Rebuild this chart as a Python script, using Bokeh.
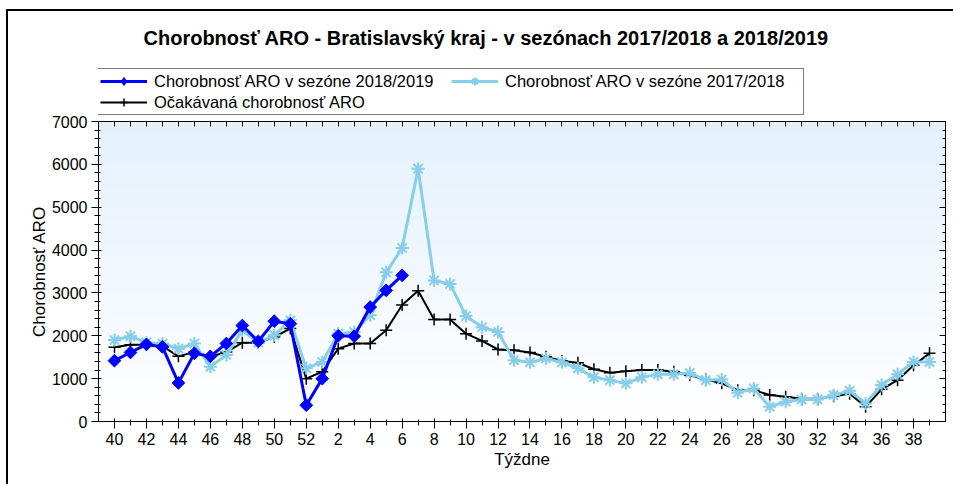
import numpy as np
from bokeh.plotting import figure
from bokeh.layouts import column
from bokeh.models import (Range1d, FixedTicker, LinearAxis, Legend, LegendItem,
                          CustomJSTickFormatter)
from bokeh.embed import file_html
from bokeh.resources import INLINE

# ---- data ----
weeks = [40, 41, 42, 43, 44, 45, 46, 47, 48, 49, 50, 51, 52,
         1, 2, 3, 4, 5, 6, 7, 8, 9, 10, 11, 12, 13, 14, 15, 16, 17, 18, 19, 20,
         21, 22, 23, 24, 25, 26, 27, 28, 29, 30, 31, 32, 33, 34, 35, 36, 37, 38, 39]

season_2018_19 = [1420, 1610, 1800, 1740, 900, 1590, 1520, 1820, 2240, 1870,
                  2340, 2280, 380, 1000, 2000, 1990, 2670, 3060, 3410]

season_2017_18 = [1900, 1990, 1840, 1820, 1700, 1820, 1280, 1550, 2130, 1840,
                  2010, 2360, 1240, 1390, 2050, 2090, 2480, 3480, 4050,
                  5900, 3290, 3210, 2460, 2200, 2090, 1430, 1380, 1470, 1380, 1240, 1030,
                  965, 890, 1030, 1100, 1100, 1130, 965, 980, 670, 770, 345, 460,
                  515, 515, 615, 715, 420, 850, 1100, 1390, 1390]

expected = [1730, 1790, 1790, 1760, 1520, 1620, 1510, 1620, 1840, 1840,
            1970, 2170, 1000, 1160, 1700, 1820, 1820, 2130, 2720,
            3050, 2380, 2380, 2050, 1880, 1680, 1660, 1610, 1510, 1410, 1370, 1220,
            1140, 1170, 1200, 1200, 1160, 1080, 980, 890, 730, 730, 620, 580,
            530, 530, 590, 650, 345, 750, 965, 1310, 1590]

labels = ["Chorobnosť ARO v sezóne 2018/2019",
          "Chorobnosť ARO v sezóne 2017/2018",
          "Očakávaná chorobnosť ARO"]
title_text = "Chorobnosť ARO - Bratislavský kraj - v sezónach 2017/2018 a 2018/2019"
y_ticks = list(range(0, 7001, 1000))
y_minor = list(range(0, 7001, 200))

FONT = "Liberation Sans"
BLUE = "#0000FF"
SKY = "#87CEEB"
idx = list(range(len(weeks)))

# ---------------- main plot ----------------
p = figure(width=945, height=369, x_range=Range1d(-1, len(weeks)), y_range=Range1d(0, 7000),
           output_backend="svg", toolbar_location=None,
           min_border_left=90, min_border_right=8, min_border_top=6, min_border_bottom=63)

p.xgrid.visible = False
p.ygrid.visible = False
p.outline_line_color = "black"
p.background_fill_color = "white"

# gradient background
n = 256
t = np.linspace(0.0, 1.0, n)
top = np.array([228, 241, 253])
bot = np.array([255, 255, 255])
img = np.empty((n, 1), dtype=np.uint32)
view = img.view(dtype=np.uint8).reshape((n, 1, 4))
for c in range(3):
    view[:, 0, c] = (bot[c] + (top[c] - bot[c]) * t).astype(np.uint8)
view[:, 0, 3] = 255
p.image_rgba(image=[img], x=p.x_range.start, y=p.y_range.start,
             dw=p.x_range.end - p.x_range.start, dh=p.y_range.end - p.y_range.start)

line_styles = [dict(color=BLUE, line_width=3),
               dict(color=SKY, line_width=3),
               dict(color="black", line_width=2)]
marker_styles = [dict(marker="square", angle=np.pi / 4, size=9, color=BLUE),
                 dict(marker="asterisk", size=13, line_color=SKY, line_width=2),
                 dict(marker="cross", size=12, line_color="black", line_width=1.5)]
legend_marker_styles = [dict(marker="diamond", size=13, color=BLUE),
                        marker_styles[1], marker_styles[2]]

n1 = len(season_2018_19)
series = [(idx[:n1], season_2018_19), (idx, season_2017_18), (idx, expected)]
for k in (2, 1, 0):
    xs, ys = series[k]
    p.line(xs, ys, **line_styles[k])
    p.scatter(xs, ys, **marker_styles[k])

# axes
xa = p.xaxis[0]
xa.ticker = FixedTicker(ticks=idx[::2], minor_ticks=idx)
xa.major_label_overrides = {i: str(weeks[i]) for i in idx[::2]}
xa.major_tick_out = 7
xa.major_tick_in = 3
xa.minor_tick_out = 4
xa.minor_tick_in = 2
xa.axis_label = "Týždne"
xa.axis_label_standoff = 2

ya = p.yaxis[0]
ya.ticker = FixedTicker(ticks=y_ticks, minor_ticks=y_minor)
ya.major_tick_out = 7
ya.major_tick_in = 3
ya.minor_tick_out = 4
ya.minor_tick_in = 2
ya.axis_label = "Chorobnosť ARO"
ya.axis_label_standoff = 0

for ax in (xa, ya):
    ax.axis_line_color = "black"
    ax.major_tick_line_color = "black"
    ax.minor_tick_line_color = "black"
    ax.major_label_text_font = FONT
    ax.major_label_text_font_size = "16px"
    ax.major_label_text_color = "black"
    ax.axis_label_text_font = FONT
    ax.axis_label_text_font_size = "17px"
    ax.axis_label_text_font_style = "normal"
    ax.axis_label_text_color = "black"
    ax.major_label_standoff = 4

blank = CustomJSTickFormatter(code="return '';")
top_ax = LinearAxis(ticker=FixedTicker(ticks=idx, minor_ticks=[]), formatter=blank,
                    major_tick_in=5, major_tick_out=0, major_label_standoff=0,
                    axis_line_color="black")
right_ax = LinearAxis(ticker=FixedTicker(ticks=y_ticks, minor_ticks=y_minor), formatter=blank,
                      major_tick_in=6, major_tick_out=0, minor_tick_in=3, minor_tick_out=0,
                      major_label_standoff=0, axis_line_color="black")
p.add_layout(top_ax, "above")
p.add_layout(right_ax, "right")

# ---------------- header: title + legend ----------------
# header ranges lie far from the data, so its copies of the series only feed the legend
head = figure(width=945, height=104, x_range=Range1d(0, 1), y_range=Range1d(-2, -1),
              output_backend="svg", toolbar_location=None,
              x_axis_type=None, y_axis_type=None,
              min_border_left=0, min_border_right=0, min_border_top=40, min_border_bottom=0)
head.xgrid.visible = False
head.ygrid.visible = False
head.outline_line_color = None

items = []
for k in range(3):
    xs, ys = series[k]
    lr = head.line(xs, ys, **line_styles[k])
    sr = head.scatter(xs, ys, **legend_marker_styles[k])
    items.append(LegendItem(label=labels[k], renderers=[lr, sr]))

legend = Legend(items=items, orientation="horizontal", ncols=2, location=(-1, 0),
                border_line_color="black", border_line_width=1.5,
                background_fill_color="white", background_fill_alpha=1,
                label_text_font=FONT, label_text_font_size="16.5px",
                label_text_color="black",
                glyph_width=47, glyph_height=20, label_height=20,
                label_standoff=7, padding=2, spacing=1, margin=0,
                label_width=296)
head.add_layout(legend, "center")

head.title.text = title_text
head.title.align = "left"
head.title.offset = 45
head.title.text_font = FONT
head.title.text_font_size = "20px"
head.title.text_font_style = "bold"
head.title.text_color = "black"
head.title.standoff = 6
head.title.padding = 0

layout = column(head, p, spacing=0,
                styles={"border-left": "2px solid black", "border-top": "2px solid black",
                        "margin-left": "6px", "margin-top": "9px"})

open("out.html", "w").write(file_html(layout, INLINE))
